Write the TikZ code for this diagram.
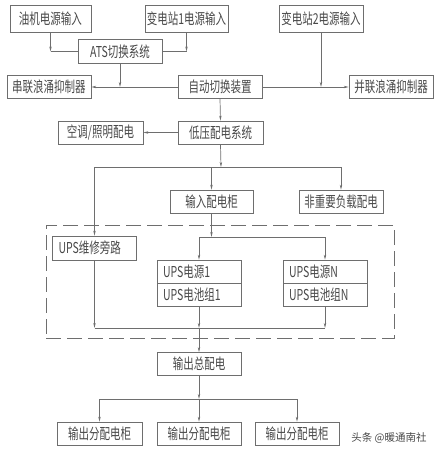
\documentclass[tikz,border=0pt]{standalone}
\usepackage{fontspec}
\newfontfamily\cjk[FakeStretch=0.7]{Noto Sans CJK SC}
\newfontfamily\cjkwm{Noto Sans CJK SC}
\usetikzlibrary{arrows.meta}
\definecolor{lin}{HTML}{6E6E6E}
\definecolor{txt}{HTML}{484848}
\begin{document}
\begin{tikzpicture}[x=1pt,y=-1pt,
  box/.style={draw=lin,line width=0.7pt,rectangle,minimum width=84pt,minimum height=23pt,inner sep=0pt,
    font=\cjk\fontsize{15}{15}\selectfont,text=txt},
  tall/.style={minimum height=27pt},
  lbox/.style={box,text width=72pt,inner xsep=6pt,align=left},
  ln/.style={draw=lin,line width=0.7pt},
  arr/.style={ln,-{Stealth[length=5pt,width=2.4pt]}},
]
\useasboundingbox (0,0) rectangle (440,453);
% top row
\node[box,tall,minimum width=81pt] (oil) at (50.5,18.5) {油机电源输入};
\node[box,tall,minimum width=83pt] (sub1) at (186.5,18.5) {变电站1电源输入};
\node[box,tall] (sub2) at (321,18.5) {变电站2电源输入};
\node[box,minimum height=24pt] (ats) at (120,51.5) {ATS切换系统};
% second row
\node[box] (ser) at (49,87) {串联浪涌抑制器};
\node[box] (auto) at (220,87) {自动切换装置};
\node[box] (par) at (391,87) {并联浪涌抑制器};
% third row
\node[box,minimum width=85pt] (ac) at (100.5,132.5) {空调/照明配电};
\node[box,minimum width=85pt] (lv) at (220.5,132.5) {低压配电系统};
% fourth row
\node[box,minimum width=83pt] (inp) at (211.5,201.5) {输入配电柜};
\node[box] (non) at (341,201.5) {非重要负载配电};
% UPS area
\node[draw=lin,line width=0.7pt,dash pattern=on 15pt off 6pt,rectangle,minimum width=348pt,minimum height=113pt,inner sep=0pt] (dash) at (220,281.5) {};
\node[lbox,minimum height=24pt] (byp) at (94.5,248) {UPS维修旁路};
\node[lbox] (u1a) at (199,271.5) {UPS电源1};
\node[lbox] (u1b) at (199,294.5) {UPS电池组1};
\node[lbox] (uNa) at (325,271.5) {UPS电源N};
\node[lbox] (uNb) at (325,294.5) {UPS电池组N};
% output
\node[box] (om) at (199,364) {输出总配电};
\node[box,minimum width=85pt] (o1) at (99.5,433.5) {输出分配电柜};
\node[box] (o2) at (199,433.5) {输出分配电柜};
\node[box] (o3) at (297,433.5) {输出分配电柜};
% watermark
\node[font=\cjkwm\fontsize{10.5}{10.5}\selectfont,text=txt,inner sep=0pt] (wm) at (389,438) {头条 @暖通南社};
% coordinates
\coordinate (c1) at (oil.south |- ats.west);
\coordinate (c2) at (sub1.south |- ats.east);
\coordinate (c3) at (ats.south |- ser.east);
\coordinate (c4) at (sub2.south |- par.west);
\coordinate (b1) at (221,167);
\coordinate (b1l) at (byp.north |- b1);
\coordinate (b1r) at (non.north |- b1);
\coordinate (b1i) at (inp.north |- b1);
\coordinate (b2) at (inp.south |- 0,237);
\coordinate (b2l) at (u1a.north |- b2);
\coordinate (b2r) at (uNa.north |- b2);
\coordinate (b3) at (u1b.south |- 0,328);
\coordinate (b3l) at (byp.south |- b3);
\coordinate (b3r) at (uNb.south |- b3);
\coordinate (b4) at (om.south |- 0,399);
\coordinate (b4l) at (o1.north |- b4);
\coordinate (b4r) at (o3.north |- b4);
% connectors
\draw[arr] (oil.south) -- (c1);
\draw[ln] (c1) -- (ats.west);
\draw[arr] (sub1.south) -- (c2);
\draw[ln] (c2) -- (ats.east);
\draw[arr] (ats.south) -- (c3);
\draw[arr] (auto.west) -- (ser.east);
\draw[arr] (sub2.south) -- (c4);
\draw[arr] (auto.east) -- (par.west);
\draw[arr] (auto.south) -- (lv.north);
\draw[arr] (lv.west) -- (ac.east);
\draw[arr] (lv.south) -- (b1);
\draw[ln] (b1l) -- (b1r);
\draw[arr] (b1i) -- (inp.north);
\draw[arr] (b1r) -- (non.north);
\draw[arr] (b1l) -- (byp.north);
\draw[arr] (inp.south) -- (b2);
\draw[ln] (b2l) -- (b2r);
\draw[arr] (b2l) -- (u1a.north);
\draw[arr] (b2r) -- (uNa.north);
\draw[arr] (byp.south) -- (b3l);
\draw[arr] (u1b.south) -- (b3);
\draw[arr] (uNb.south) -- (b3r);
\draw[ln] (b3l) -- (b3r);
\draw[arr] (b3) -- (om.north);
\draw[arr] (om.south) -- (b4);
\draw[ln] (b4l) -- (b4r);
\draw[arr] (b4l) -- (o1.north);
\draw[arr] (b4) -- (o2.north);
\draw[arr] (b4r) -- (o3.north);
\end{tikzpicture}
\end{document}
